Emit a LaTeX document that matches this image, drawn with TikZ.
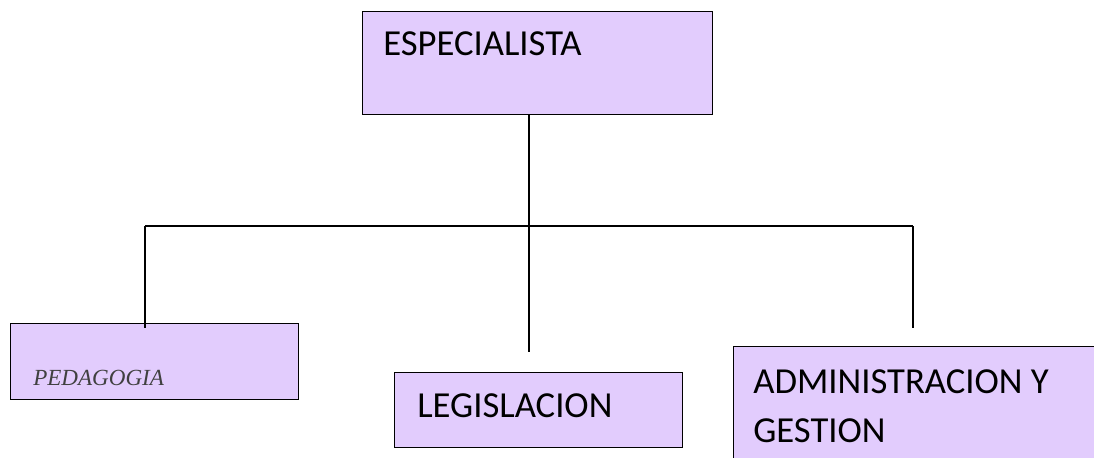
\documentclass[tikz,border=0pt]{standalone}
\usepackage{fontspec}
\setmainfont{Carlito}
\newfontfamily\pedfont{Liberation Serif}
\usepackage{tikz}
\usetikzlibrary{positioning, calc}
\definecolor{boxc}{HTML}{E2CCFD}
\definecolor{pedc}{HTML}{404040}

\begin{document}
\begin{tikzpicture}[x=0.75pt, y=-0.75pt,
          area/.style={draw=black, fill=boxc, line width=0.9pt,
                       inner sep=0pt, anchor=north west},
          lbl/.style={anchor=base west, inner sep=0pt, align=left,
                      font=\fontsize{27.5}{36.75}\selectfont},
          conn/.style={black, line width=1.2pt}]
        \useasboundingbox (0,0) rectangle (1094,457);
        \clip (0,0) rectangle (1094,457);
        \node[area, minimum width=262.5pt, minimum height=77.25pt] (esp) at (362,11) {};
        \node[area, minimum width=216pt, minimum height=57pt] (ped) at (10,323) {};
        \node[area, minimum width=216pt, minimum height=56.25pt] (leg) at (394,372) {};
        \node[area, minimum width=300pt, minimum height=97pt] (adm) at (733,346) {};
        \node[lbl] (esptxt) at (383,55) {ESPECIALISTA};
        \node[lbl, font=\pedfont\itshape\fontsize{17.3}{22}\selectfont, pedc]
          (pedtxt) at (33,385) {PEDAGOGIA};
        \node[lbl] (legtxt) at (417,417) {LEGISLACION};
        \node[lbl] (admtxt) at (753,442) {ADMINISTRACION Y\\GESTION};
        \coordinate (hub) at (529,226);
        \coordinate (lfork) at (145,226);
        \coordinate (rfork) at (913,226);
        \coordinate (lend) at (145,328);
        \coordinate (mend) at (529,352);
        \coordinate (rend) at (913,328);
        \draw[conn] (esp.south -| hub) -- (hub);
        \draw[conn] (lfork) -- (rfork);
        \foreach \a/\b in {lfork/lend, hub/mend, rfork/rend}
          \draw[conn] (\a) -- (\b);
      \end{tikzpicture}
\end{document}
